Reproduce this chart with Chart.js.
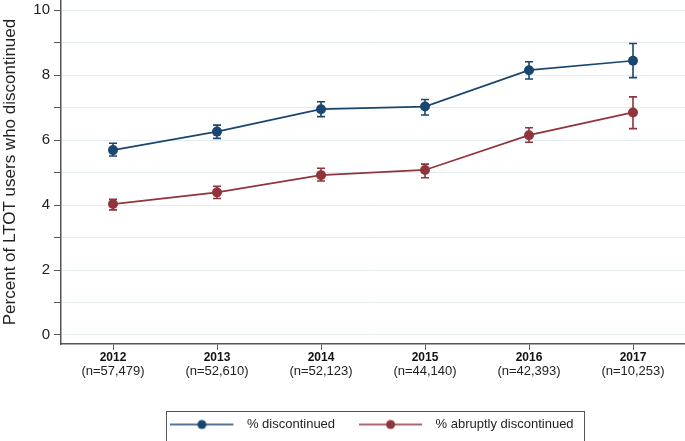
<!DOCTYPE html>
<html>
<head>
<meta charset="utf-8">
<script src="https://cdn.jsdelivr.net/npm/chart.js@4/dist/chart.umd.min.js"></script>
<style>
html,body{margin:0;padding:0;background:#fff;}
#wrap{width:685px;height:441px;}
</style>
</head>
<body>
<div id="wrap"><canvas id="c" width="685" height="441"></canvas></div>
<script>
const years = ['2012','2013','2014','2015','2016','2017'];
const nLabels = ['(n=57,479)','(n=52,610)','(n=52,123)','(n=44,140)','(n=42,393)','(n=10,253)'];
const discontinued = [5.69, 6.26, 6.95, 7.03, 8.15, 8.44];
const discontinuedLow = [5.51, 6.05, 6.72, 6.77, 7.88, 7.92];
const discontinuedHigh = [5.90, 6.46, 7.18, 7.25, 8.41, 8.97];
const abrupt = [4.03, 4.39, 4.92, 5.08, 6.15, 6.85];
const abruptLow = [3.85, 4.20, 4.74, 4.84, 5.93, 6.35];
const abruptHigh = [4.18, 4.58, 5.13, 5.26, 6.38, 7.33];
const yTicks = [0,1,2,3,4,5,6,7,8,9,10];

const BLUE = '#1a476f';
const RED = '#90353b';
const FONT = '"Liberation Sans", Arial, Helvetica, sans-serif';

function legendIcon(color) {
  const cv = document.createElement('canvas');
  cv.width = 72; cv.height = 12;
  const g = cv.getContext('2d');
  g.strokeStyle = color; g.lineWidth = 1.6;
  g.beginPath(); g.moveTo(0, 6); g.lineTo(63, 6); g.stroke();
  g.fillStyle = color;
  g.beginPath(); g.arc(31.5, 6, 4.5, 0, Math.PI * 2); g.fill();
  return cv;
}

const errorBars = {
  id: 'errorBars',
  beforeDatasetsDraw(chart) {
    const ctx = chart.ctx;
    const ys = chart.scales.y;
    chart.data.datasets.forEach((ds, i) => {
      const meta = chart.getDatasetMeta(i);
      ctx.save();
      ctx.strokeStyle = ds.borderColor;
      ctx.lineWidth = 1.6;
      meta.data.forEach((pt, j) => {
        const x = pt.x;
        const y1 = ys.getPixelForValue(ds.errLow[j]);
        const y2 = ys.getPixelForValue(ds.errHigh[j]);
        ctx.beginPath();
        ctx.moveTo(x, y1); ctx.lineTo(x, y2);
        ctx.moveTo(x - 4, y1); ctx.lineTo(x + 4, y1);
        ctx.moveTo(x - 4, y2); ctx.lineTo(x + 4, y2);
        ctx.stroke();
      });
      ctx.restore();
    });
  }
};

const legendBorder = {
  id: 'legendBorder',
  afterDraw(chart) {
    const lg = chart.legend;
    if (!lg || !lg.legendHitBoxes || !lg.legendHitBoxes.length) return;
    const hb = lg.legendHitBoxes;
    const left = hb[0].left - 6;
    const right = hb[hb.length - 1].left + hb[hb.length - 1].width + 11;
    const top = hb[0].top - 7;
    const ctx = chart.ctx;
    ctx.save();
    ctx.strokeStyle = '#555';
    ctx.lineWidth = 1;
    ctx.strokeRect(Math.round(left) + 0.5, Math.round(top) + 0.5, Math.round(right - left), 40);
    ctx.restore();
  }
};

new Chart(document.getElementById('c'), {
  type: 'line',
  data: {
    labels: years,
    datasets: [
      {
        label: '% discontinued',
        data: discontinued,
        errLow: discontinuedLow,
        errHigh: discontinuedHigh,
        borderColor: BLUE,
        backgroundColor: BLUE,
        pointBackgroundColor: BLUE,
        pointBorderColor: BLUE,
        pointBorderWidth: 0,
        borderWidth: 1.7,
        pointRadius: 5,
        tension: 0,
        xAxisID: 'x'
      },
      {
        label: '% abruptly discontinued',
        data: abrupt,
        errLow: abruptLow,
        errHigh: abruptHigh,
        borderColor: RED,
        backgroundColor: RED,
        pointBackgroundColor: RED,
        pointBorderColor: RED,
        pointBorderWidth: 0,
        borderWidth: 1.7,
        pointRadius: 5,
        tension: 0,
        xAxisID: 'x'
      }
    ]
  },
  options: {
    responsive: false,
    animation: false,
    devicePixelRatio: 1,
    layout: { autoPadding: false, padding: { top: 0, right: 0, left: 0, bottom: 0 } },
    plugins: {
      tooltip: { enabled: false },
      legend: {
        position: 'bottom',
        fullSize: false,
        labels: {
          usePointStyle: true,
          pointStyleWidth: 68,
          boxHeight: 13,
          padding: 26,
          color: '#222',
          font: { family: FONT, size: 13 },
          generateLabels(chart) {
            return chart.data.datasets.map((ds, i) => ({
              text: ds.label,
              fillStyle: ds.borderColor,
              strokeStyle: ds.borderColor,
              lineWidth: 0,
              pointStyle: legendIcon(ds.borderColor),
              hidden: false,
              datasetIndex: i,
              fontColor: '#222'
            }));
          }
        }
      }
    },
    scales: {
      x: {
        type: 'category',
        offset: true,
        weight: 0,
        afterFit(scale) { scale.height = 20; scale.paddingLeft = 0; scale.paddingRight = 0; },
        grid: { display: true, drawOnChartArea: false, drawTicks: true, tickLength: 6, offset: false, color: '#555' },
        border: { display: true, color: '#555', width: 1.5 },
        ticks: { color: '#111', font: { family: FONT, size: 12, weight: 'bold' }, padding: 0, maxRotation: 0, autoSkip: false }
      },
      x2: {
        type: 'category',
        position: 'bottom',
        labels: nLabels,
        offset: true,
        weight: 1,
        afterFit(scale) { scale.height = 28; scale.paddingLeft = 0; scale.paddingRight = 0; },
        grid: { display: false, drawTicks: false },
        border: { display: false },
        ticks: { color: '#222', font: { family: FONT, size: 13 }, padding: 0, maxRotation: 0, autoSkip: false }
      },
      y: {
        min: -0.277,
        max: 10.31,
        afterBuildTicks(scale) { scale.ticks = yTicks.map(v => ({ value: v })); },
        afterFit(scale) { scale.width = 61; scale.paddingTop = 0; scale.paddingBottom = 0; },
        grid: { color: '#e3ebee', lineWidth: 1, tickLength: 7, drawTicks: true, tickColor: '#555' },
        border: { display: true, color: '#555', width: 1.5 },
        ticks: {
          color: '#222',
          font: { family: FONT, size: 15 },
          padding: 4,
          callback(v) { return v % 2 === 0 ? String(v) : ''; }
        },
        title: {
          display: true,
          text: 'Percent of LTOT users who discontinued',
          color: '#222',
          font: { family: FONT, size: 17 },
          padding: { top: 0, bottom: 0 }
        }
      }
    }
  },
  plugins: [errorBars, legendBorder]
});
</script>
</body>
</html>
